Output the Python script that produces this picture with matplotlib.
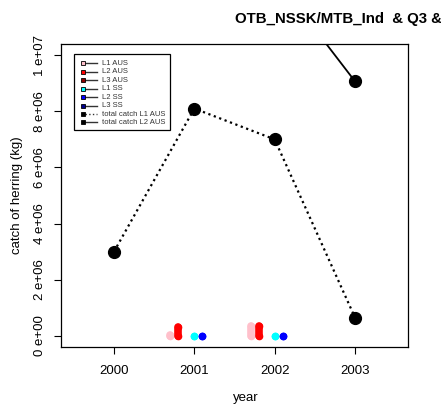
import numpy as np
import matplotlib
matplotlib.use("Agg")
import matplotlib.pyplot as plt
from matplotlib.patches import Rectangle
from matplotlib.lines import Line2D

plt.rcParams['font.family'] = ['Liberation Sans', 'DejaVu Sans']

################################################################
# yearly totals
years = [2000, 2001, 2002, 2003]
total_L1_AUS = [3.0e6, 8.1e6, 7.0e6, 0.65e6]
total_L2_AUS = [np.nan, np.nan, 12.8e6, 9.07e6]

# catch per length group (years with data)
bar_years = [2001, 2002]
L1_AUS = [0.04e6, 0.36e6]
L2_AUS = [0.33e6, 0.36e6]
L3_AUS = [np.nan, np.nan]
L1_SS = [0.0, 0.0]
L2_SS = [0.0, 0.0]
L3_SS = [np.nan, np.nan]

y_ticks = [0, 2e6, 4e6, 6e6, 8e6, 1e7]
y_tick_labels = ["0 e+00", "2 e+06", "4 e+06", "6 e+06", "8 e+06", "1 e+07"]
################################################################

groups = [
	("L1 AUS", L1_AUS, "#FFC0CB", -0.3),
	("L2 AUS", L2_AUS, "#FF0000", -0.2),
	("L3 AUS", L3_AUS, "#8B0000", -0.1),
	("L1 SS", L1_SS, "#00FFFF", 0.0),
	("L2 SS", L2_SS, "#0000FF", 0.1),
	("L3 SS", L3_SS, "#00008B", 0.2),
]

fig = plt.figure(figsize=(4.41, 4.08), dpi=100)
ax = fig.add_axes([61/441, 61/408, 347/441, 303/408])

# length group catches as thick round-ended spikes
# (end markers keep zero values visible as dots)
for name, vals, col, off in groups:
	for yr, v in zip(bar_years, vals):
		if np.isnan(v):
			continue
		x = yr + off
		ax.plot([x, x], [0, v], color=col, lw=5.5, solid_capstyle='round',
			marker='o', markersize=5.5, markeredgewidth=0, zorder=2)

# totals
ax.plot(years, total_L1_AUS, color='black', lw=1.6, linestyle=(0, (1, 1.6)),
	marker='o', markersize=8.5, zorder=3)
ax.plot(years, total_L2_AUS, color='black', lw=1.3, marker='o', markersize=8.5, zorder=3)

ax.set_xlim(1999.34, 2003.66)
ax.set_ylim(-0.4e6, 10.4e6)
ax.set_xticks(years)
ax.set_xticklabels([str(y) for y in years])
ax.set_yticks(y_ticks)
ax.set_yticklabels(y_tick_labels, rotation=90, va='center')
ax.tick_params(axis='both', direction='out', length=5, width=0.8, labelsize=9.5, pad=8)
ax.tick_params(axis='y', pad=6)
for sp in ax.spines.values():
	sp.set_linewidth(0.9)

ax.set_ylabel("catch of herring (kg)", fontsize=9.5, labelpad=8)
fig.text(246/441, 1 - 398/408, "year", ha='center', va='center', fontsize=9.5)

fig.text(235/441, 1 - 19/408, "OTB_NSSK/MTB_Ind  & Q3 & Q4", ha='left', va='center',
	fontsize=10.8, fontweight='bold')

# legend box drawn by hand (marker sits at the left end of the line)
tr = ax.transAxes
def px_to_ax(px, py):
	return (px - 61) / 347, (347 - py) / 303

x0, y0 = px_to_ax(73.5, 130)
x1, y1 = px_to_ax(170.5, 54)
ax.add_patch(Rectangle((x0, y0), x1 - x0, y1 - y0, transform=tr, fill=True,
	facecolor='white', edgecolor='black', lw=0.9, zorder=5))

legend_rows = [(name, col, '-') for name, _, col, _ in groups]
legend_rows += [("total catch L1 AUS", "black", ':'), ("total catch L2 AUS", "black", '-')]
row_y = [63.3, 71.7, 80.4, 88.9, 97.3, 105.7, 114.0, 122.2]
for (name, col, ls), py in zip(legend_rows, row_y):
	lx0, ly = px_to_ax(85, py)
	lx1, _ = px_to_ax(97, py)
	ax.add_line(Line2D([lx0, lx1], [ly, ly], transform=tr, color='#333333', lw=1.0,
		linestyle=ls, zorder=6))
	mx, _ = px_to_ax(83, py)
	ax.add_line(Line2D([mx], [ly], transform=tr, marker='s', markersize=3.4,
		markerfacecolor=col, markeredgecolor='black', markeredgewidth=0.6,
		linestyle='none', zorder=7))
	tx, _ = px_to_ax(102.5, py)
	ax.text(tx, ly, name, transform=tr, fontsize=5.5, color='#333333',
		ha='left', va='center', zorder=7)

fig.savefig("out.png", dpi=100)
